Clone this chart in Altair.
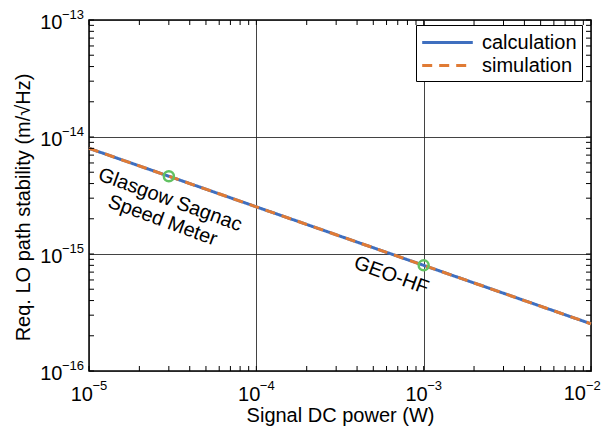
import altair as alt
import pandas as pd

# ---- data ----
power = [1e-5, 3e-5, 1e-4, 3e-4, 1e-3, 3e-3, 1e-2]
calculation = [8.0e-15, 4.62e-15, 2.53e-15, 1.46e-15, 8.0e-16, 4.62e-16, 2.53e-16]
simulation = [8.0e-15, 4.62e-15, 2.53e-15, 1.46e-15, 8.0e-16, 4.62e-16, 2.53e-16]

marked_power = [3e-5, 1e-3]
marked_stability = [4.62e-15, 8.0e-16]

note_text = ["Glasgow Sagnac\nSpeed Meter", "GEO-HF"]
note_power = [3.05e-5, 6.4e-4]
note_stability = [2.9e-15, 6.55e-16]

x_major = [1e-5, 1e-4, 1e-3, 1e-2]
x_exp = ["−5", "−4", "−3", "−2"]
y_major = [1e-16, 1e-15, 1e-14, 1e-13]
y_exp = ["−16", "−15", "−14", "−13"]

W, H = 502, 351
FONT = "Liberation Sans"
FS = 20
EXP_FS = 13

lines = pd.DataFrame(
    {"power": power * 2,
     "stability": calculation + simulation,
     "series": ["calculation"] * len(power) + ["simulation"] * len(power)}
)
marks = pd.DataFrame({"power": marked_power, "stability": marked_stability})
notes = pd.DataFrame({"power": note_power, "stability": note_stability, "text": note_text})
xexp_main = pd.DataFrame({"power": x_major[:-1], "e": x_exp[:-1]})
xlast = pd.DataFrame({"power": x_major[-1:], "e": x_exp[-1:], "b": ["10"]})
yexp = pd.DataFrame({"stability": y_major, "e": y_exp})

x_minor = [k * 10.0 ** e for e in (-5, -4, -3) for k in range(1, 10)] + [1e-2]
y_minor = [k * 10.0 ** e for e in (-16, -15, -14) for k in range(1, 10)] + [1e-13]
xt = pd.DataFrame({"power": x_minor})
yt = pd.DataFrame({"stability": y_minor})

xscale = alt.Scale(type="log", domain=[1e-5, 1e-2], nice=False)
yscale = alt.Scale(type="log", domain=[1e-16, 1e-13], nice=False)

xaxis = alt.Axis(values=x_major, labelExpr="datum.value > 0.005 ? '' : '10'",
                 title="Signal DC power (W)", grid=True, ticks=False, domain=False,
                 labelAlign="right", labelOffset=3.5, labelBaseline="middle",
                 labelPadding=23, titlePadding=1)
yaxis = alt.Axis(values=y_major, labelExpr="'10'",
                 title="Req. LO path stability (m/√Hz)", grid=True, ticks=False, domain=False,
                 labelAlign="right", labelBaseline="middle", labelOffset=2.5,
                 labelPadding=27, titlePadding=6, titleY=187)

base_x = alt.X("power:Q", scale=xscale, axis=xaxis)
base_y = alt.Y("stability:Q", scale=yscale, axis=yaxis)

line = alt.Chart(lines).mark_line(strokeWidth=3).encode(
    x=base_x, y=base_y,
    color=alt.Color("series:N",
                    scale=alt.Scale(domain=["calculation", "simulation"],
                                    range=["#3f6fbf", "#e07b35"]),
                    legend=alt.Legend(title=None, orient="none", legendX=327, legendY=5,
                                      symbolType="M-2.3,0H2.3", symbolSize=484,
                                      symbolStrokeWidth=3, symbolOffset=14,
                                      labelOffset=22,
                                      labelFontSize=FS, labelFont=FONT, labelColor="black",
                                      fillColor="white", strokeColor="black",
                                      padding=5, rowPadding=0)),
    strokeDash=alt.StrokeDash("series:N",
                              scale=alt.Scale(domain=["calculation", "simulation"],
                                              range=[[1, 0], [10, 7]])),
)

circles = alt.Chart(marks).mark_point(shape="circle", size=100, strokeWidth=2.5,
                                      color="#62c262", filled=False, opacity=1).encode(
    x="power:Q", y="stability:Q")

text = alt.Chart(notes).mark_text(angle=20, fontSize=FS, font=FONT, lineBreak="\n",
                                  lineHeight=22, align="center", baseline="middle",
                                  color="black").encode(
    x="power:Q", y="stability:Q", text="text:N")

xe = alt.Chart(xexp_main).mark_text(fontSize=EXP_FS, font=FONT, align="left",
                                    baseline="middle", dx=3.5, dy=15, color="black").encode(
    x="power:Q", y=alt.value(H), text="e:N")
# last x tick label pulled slightly inward so it stays inside the page
xlb = alt.Chart(xlast).mark_text(fontSize=FS, font=FONT, align="right",
                                 baseline="middle", dx=-5, dy=23, color="black").encode(
    x="power:Q", y=alt.value(H), text="b:N")
xle = alt.Chart(xlast).mark_text(fontSize=EXP_FS, font=FONT, align="left",
                                 baseline="middle", dx=-5, dy=15, color="black").encode(
    x="power:Q", y=alt.value(H), text="e:N")
ye = alt.Chart(yexp).mark_text(fontSize=EXP_FS, font=FONT, align="left", baseline="middle",
                               dy=-5, color="black").encode(
    y="stability:Q", x=alt.value(-27), text="e:N")

tick_len = 5
xb = alt.Chart(xt).mark_rule(color="black", strokeWidth=1).encode(
    x="power:Q", y=alt.value(H), y2=alt.value(H - tick_len))
xtp = alt.Chart(xt).mark_rule(color="black", strokeWidth=1).encode(
    x="power:Q", y=alt.value(0), y2=alt.value(tick_len))
yl = alt.Chart(yt).mark_rule(color="black", strokeWidth=1).encode(
    y="stability:Q", x=alt.value(0), x2=alt.value(tick_len))
yr = alt.Chart(yt).mark_rule(color="black", strokeWidth=1).encode(
    y="stability:Q", x=alt.value(W), x2=alt.value(W - tick_len))

chart = alt.layer(line, circles, text, xe, xlb, xle, ye, xb, xtp, yl, yr).properties(
    width=W, height=H,
    autosize=alt.AutoSizeParams(type="none"),
    padding={"left": 81, "top": 12, "right": 11, "bottom": 55},
).configure_view(
    stroke="black", strokeWidth=1.5
).configure_axis(
    labelFont=FONT, titleFont=FONT, labelFontSize=FS, titleFontSize=FS,
    titleFontWeight="normal", labelColor="black", titleColor="black",
    gridColor="#222222", gridWidth=1, gridOpacity=0.85
)

chart.save("out.html", embed_options={"renderer": "svg", "actions": False})
